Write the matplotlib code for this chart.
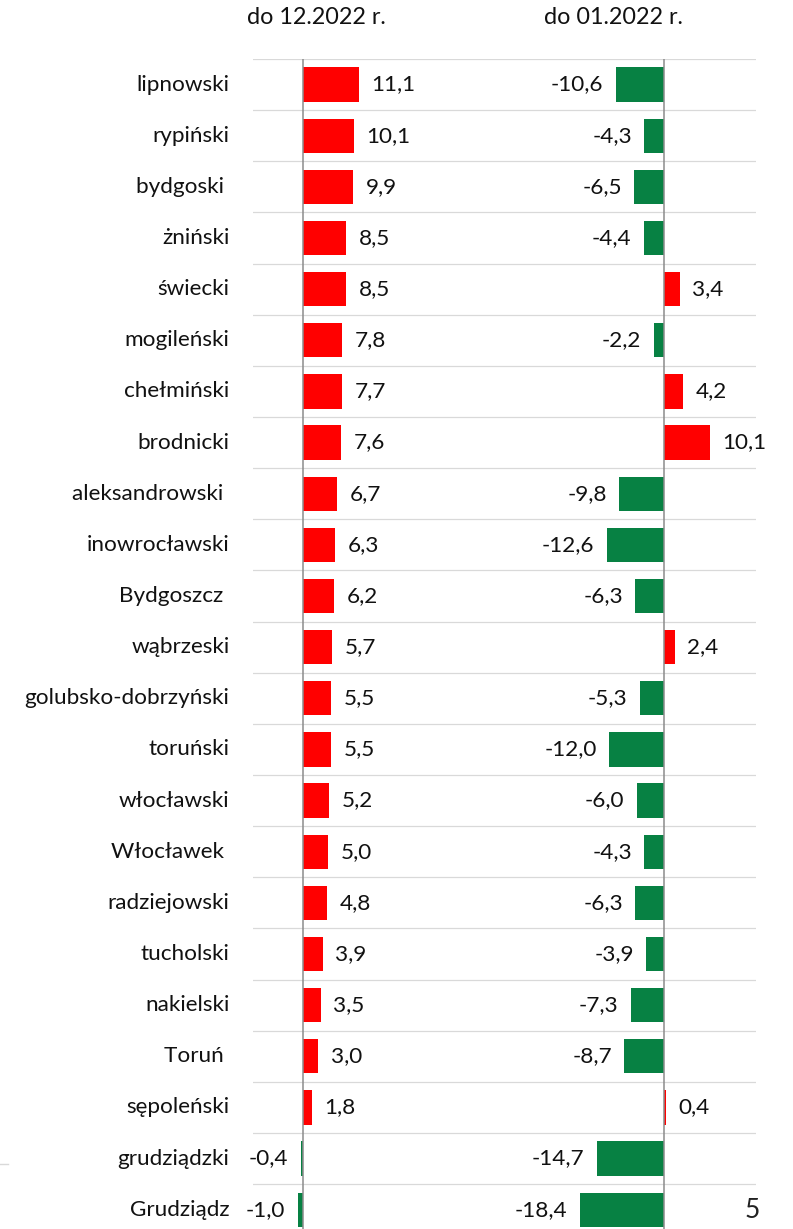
import matplotlib
matplotlib.use("Agg")
import matplotlib.pyplot as plt
from matplotlib.lines import Line2D
import numpy as np

plt.rcParams['font.family'] = ['Lato', 'DejaVu Sans']

categories = ["lipnowski", "rypiński", "bydgoski ", "żniński", "świecki", "mogileński",
              "chełmiński", "brodnicki", "aleksandrowski ", "inowrocławski", "Bydgoszcz ",
              "wąbrzeski", "golubsko-dobrzyński", "toruński", "włocławski", "Włocławek ",
              "radziejowski", "tucholski", "nakielski", "Toruń ", "sępoleński",
              "grudziądzki", "Grudziądz"]
v_12_2022 = [11.1, 10.1, 9.9, 8.5, 8.5, 7.8, 7.7, 7.6, 6.7, 6.3, 6.2, 5.7, 5.5, 5.5,
             5.2, 5.0, 4.8, 3.9, 3.5, 3.0, 1.8, -0.4, -1.0]
v_01_2022 = [-10.6, -4.3, -6.5, -4.4, 3.4, -2.2, 4.2, 10.1, -9.8, -12.6, -6.3, 2.4,
             -5.3, -12.0, -6.0, -4.3, -6.3, -3.9, -7.3, -8.7, 0.4, -14.7, -18.4]
titles = ["do 12.2022 r.", "do 01.2022 r."]

RED = "#FF0000"
GREEN = "#078143"
TXT = "#111111"
W, H = 793, 1229
fig = plt.figure(figsize=(W / 100, H / 100), dpi=100)

row_h = 51.14
top_px = 59
n = len(categories)
bottom_px = top_px + row_h * n
fs = 16.2

def fx(px):
    return px / W

def fy(py):
    return 1 - py / H

split = 500
ax1 = fig.add_axes([fx(253), fy(bottom_px), fx(split - 253), (bottom_px - top_px) / H])
ax2 = fig.add_axes([fx(split), fy(bottom_px), fx(756 - split), (bottom_px - top_px) / H])

ax1.set_xlim(-50 / 5.05, (split - 303) / 5.05)
ax2.set_xlim(-(664 - split) / 4.56, (756 - 664) / 4.56)

y = np.arange(n)
for ax, vals in ((ax1, v_12_2022), (ax2, v_01_2022)):
    colors = [RED if v > 0 else GREEN for v in vals]
    ax.barh(y, vals, height=0.67, color=colors, zorder=2)
    ax.set_ylim(n - 0.5, -0.5)
    for b in np.arange(n + 1) - 0.5:
        ax.axhline(b, color="#D9D9D9", lw=0.9, zorder=1)
    ax.axvline(0, color="#8C8C8C", lw=1.1, zorder=3)
    for s in ax.spines.values():
        s.set_visible(False)
    ax.set_xticks([])
    ax.set_yticks([])
    ax.patch.set_alpha(0)
    for i, v in enumerate(vals):
        lab = f"{v:.1f}".replace(".", ",")
        if v >= 0:
            ax.annotate(lab, (v, i), xytext=(9, 0), textcoords="offset points",
                        ha="left", va="center", fontsize=fs, color=TXT)
        else:
            ax.annotate(lab, (v, i), xytext=(-9, 0), textcoords="offset points",
                        ha="right", va="center", fontsize=fs, color=TXT)

for i, c in enumerate(categories):
    ax1.annotate(c, (0, i), xycoords=("axes fraction", "data"), xytext=(-17, 0),
                 textcoords="offset points", ha="right", va="center", fontsize=fs,
                 color=TXT)

fig.text(fx(316), fy(18), titles[0], ha="center", va="center", fontsize=fs + 0.6, color=TXT)
fig.text(fx(613), fy(18), titles[1], ha="center", va="center", fontsize=fs + 0.6, color=TXT)
fig.text(fx(752), fy(1210), "5", ha="center", va="center", fontsize=19, color="#222222")

fig.add_artist(Line2D([0, fx(8)], [fy(1164), fy(1164)], color="#D9D9D9", lw=1.0))

fig.savefig("out.png", dpi=100)
